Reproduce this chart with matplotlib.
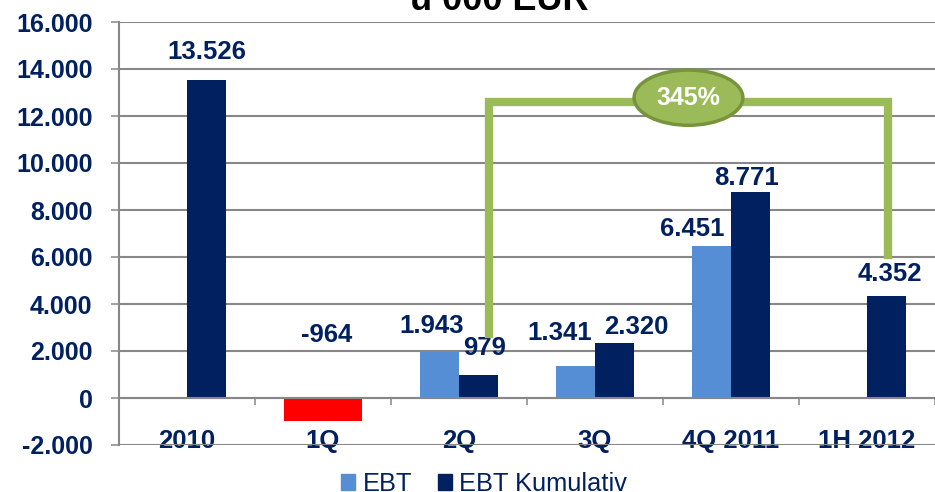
import numpy as np
import matplotlib
matplotlib.use("Agg")
import matplotlib.pyplot as plt
from matplotlib.patches import Ellipse, Patch

# chart data
categories = ["2010", "1Q", "2Q", "3Q", "4Q 2011", "1H 2012"]
ebt = [np.nan, -964, 1943, 1341, 6451, np.nan]
ebt_kum = [13526, -964, 979, 2320, 8771, 4352]
y_ticks = [-2000, 0, 2000, 4000, 6000, 8000, 10000, 12000, 14000, 16000]

NAVY = "#002060"
LIGHT = "#558ED5"
RED = "#FF0000"
GREEN = "#9BBB59"
GREEN_DARK = "#77933C"
GRID = "#878787"
FONT = "Liberation Sans"


def fmt(v):
    # german thousands separator
    return "{:,.0f}".format(v).replace(",", ".")


fig = plt.figure(figsize=(9.35, 4.92), dpi=100)
ax = fig.add_axes([119 / 935, 47 / 492, 1 - 119 / 935, 423 / 492])

x = np.arange(len(categories))
w = 0.285

ebt_colors = [RED if v < 0 else LIGHT for v in np.nan_to_num(ebt)]
kum_colors = [RED if v < 0 else NAVY for v in ebt_kum]
ax.bar(x - w / 2, ebt, w, color=ebt_colors, zorder=3)
ax.bar(x + w / 2, ebt_kum, w, color=kum_colors, zorder=3)

ax.set_xlim(-0.5, 5.45)
ax.set_ylim(y_ticks[0], y_ticks[-1])
ax.set_yticks(y_ticks)
ax.set_yticklabels([fmt(t) for t in y_ticks])
ax.yaxis.grid(True, color=GRID, linewidth=1.5, zorder=0)
ax.tick_params(axis="y", length=6, width=1.1, color=GRID, pad=13,
               labelsize=18, labelcolor=NAVY)
for lab in ax.get_yticklabels():
    lab.set_fontweight("bold")
    lab.set_family(FONT)

ax.spines["top"].set_visible(False)
ax.spines["right"].set_visible(False)
ax.spines["left"].set_color(GRID)
ax.spines["left"].set_linewidth(1.5)
ax.spines["bottom"].set_position(("data", 0))
ax.spines["bottom"].set_color(GRID)
ax.spines["bottom"].set_linewidth(1.5)
ax.spines["bottom"].set_zorder(4)

ax.set_xticks(x)
ax.set_xticklabels(categories, fontsize=18.5, fontweight="bold", color=NAVY,
                   family=FONT)
ax.set_xticks(np.arange(len(categories)) + 0.5, minor=True)
ax.tick_params(axis="x", which="major", length=0, pad=22)
ax.tick_params(axis="x", which="minor", length=5, width=1.1, color=GRID,
               direction="out")

# value labels (offsets in pixels from the bar end)
label_kw = dict(textcoords="offset pixels", ha="center", va="center",
                fontsize=18.5, fontweight="bold", color=NAVY, family=FONT)
ebt_offsets = [None, None, (-8, 26), (-16, 33), (-19, 17), None]
kum_offsets = [(0, 28), None, (6, 27), (22, 16), (-4, 14), (3, 22)]
for i, v in enumerate(ebt):
    if ebt_offsets[i] is not None:
        ax.annotate(fmt(v), (x[i] - w / 2, v), xytext=ebt_offsets[i], **label_kw)
for i, v in enumerate(ebt_kum):
    if kum_offsets[i] is not None:
        ax.annotate(fmt(v), (x[i] + w / 2, v), xytext=kum_offsets[i], **label_kw)
# 1Q: one label for the negative quarter, above the zero line
ax.annotate(fmt(ebt_kum[1]), (x[1], 0), xytext=(4, 63), **label_kw)

# growth bracket 2Q -> 1H 2012
i0, i1 = 2, 5
growth = (ebt_kum[i1] / ebt_kum[i0] - 1) * 100
xl = x[i0] + w / 2 + 0.08
xr = x[i1] + w / 2 + 0.01
top = 12600
ax.plot([xl, xl, xr, xr],
        [ebt_kum[i0] + 1750, top, top, ebt_kum[i1] + 1730],
        color=GREEN, linewidth=6, solid_joinstyle="miter", zorder=5,
        clip_on=False)
xm = (xl + xr) / 2
ax.add_patch(Ellipse((xm, top + 180), 0.8, 2350, facecolor=GREEN,
                     edgecolor=GREEN_DARK, linewidth=2.5, zorder=6))
ax.text(xm, top + 180, "{:.0f}%".format(growth), ha="center", va="center",
        fontsize=18, fontweight="bold", color="white", family=FONT, zorder=7)

# title, cut off at the top in the original
fig.text(0.534, 1 - 10 / 492, "u 000 EUR", ha="center", va="baseline",
         fontsize=26, fontweight="bold", color="black", family=FONT)

handles = [Patch(color=LIGHT, label="EBT"), Patch(color=NAVY, label="EBT Kumulativ")]
leg = fig.legend(handles=handles, loc="center", ncol=2, frameon=False,
                 bbox_to_anchor=(0.518, 1 - 484 / 492),
                 prop={"family": FONT, "size": 18.3},
                 handlelength=0.55, handleheight=0.55, handletextpad=0.3,
                 columnspacing=1.0, borderpad=0)
for t in leg.get_texts():
    t.set_color(NAVY)

fig.savefig("out.png", dpi=100)
